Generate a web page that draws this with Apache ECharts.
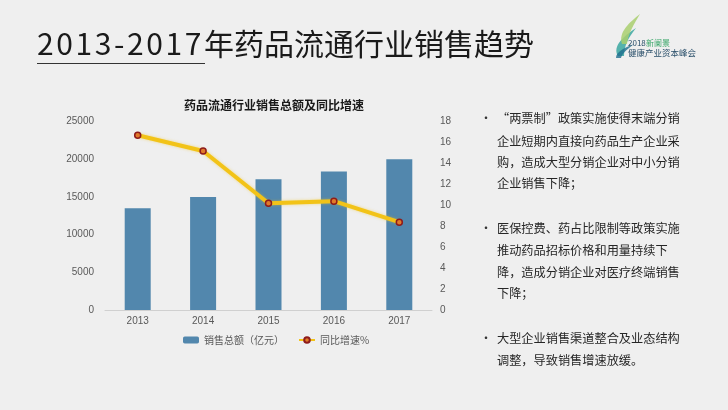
<!DOCTYPE html>
<html>
<head>
<meta charset="utf-8">
<script src="https://cdn.jsdelivr.net/npm/echarts@6/dist/echarts.min.js"></script>
<style>
  html, body { margin:0; padding:0; background:#efefef; width:728px; height:410px; overflow:hidden; font-family:"Noto Sans CJK SC","Noto Sans",sans-serif; }
  #chart { position:absolute; left:0; top:0; width:728px; height:410px; }
  #title { position:absolute; left:37px; top:22px; font-size:30px; line-height:40px; color:#1a1a1a; font-weight:400; white-space:nowrap; }
  #title .d { letter-spacing:2.6px; }
  #uline { position:absolute; left:37px; top:63px; width:168px; height:1px; background:#333; }
  .ln { position:absolute; left:497px; font-size:12.2px; line-height:22px; color:#262626; white-space:nowrap; }
  .bul { position:absolute; left:480px; font-size:12px; line-height:22px; color:#333; }
  #logo { position:absolute; left:610px; top:10px; width:100px; height:50px; }
</style>
</head>
<body>
<div id="chart"></div>
<div id="title"><span class="d">2013-2017</span>年药品流通行业销售趋势</div>
<div id="uline"></div>
<svg id="logo" viewBox="0 0 100 50">
  <path d="M8 46 C 2 36, 14 26, 26 18 C 18 28, 14 36, 14 46 Z" fill="#3aa7a0" opacity="0.85"/>
  <path d="M12 34 C 8 22, 20 12, 30 4 C 24 14, 18 24, 17 34 Z" fill="#a9cf6f" opacity="0.85"/>
  <path d="M6 48 C 6 42, 14 38, 24 34 C 16 40, 12 44, 11 48 Z" fill="#1e6e8e" opacity="0.8"/>
  <text x="18" y="36" font-size="8" fill="#2a4f6a" font-family="Noto Sans CJK SC">2018</text>
  <text x="36" y="36" font-size="8" fill="#3aa76a" font-family="Noto Sans CJK SC">新阑景</text>
  <text x="18" y="46" font-size="8.5" fill="#2a4f6a" font-family="Noto Sans CJK SC">健康产业资本峰会</text>
</svg>
<div class="bul" style="top:107px">•</div>
<div class="ln" style="top:107px">“两票制”政策实施使得末端分销</div>
<div class="ln" style="top:130px">企业短期内直接向药品生产企业采</div>
<div class="ln" style="top:151px">购，造成大型分销企业对中小分销</div>
<div class="ln" style="top:172px">企业销售下降；</div>
<div class="bul" style="top:217px">•</div>
<div class="ln" style="top:217px">医保控费、药占比限制等政策实施</div>
<div class="ln" style="top:239px">推动药品招标价格和用量持续下</div>
<div class="ln" style="top:261px">降，造成分销企业对医疗终端销售</div>
<div class="ln" style="top:282px">下降；</div>
<div class="bul" style="top:327px">•</div>
<div class="ln" style="top:327px">大型企业销售渠道整合及业态结构</div>
<div class="ln" style="top:349px">调整，导致销售增速放缓。</div>
<script>
const years = ['2013', '2014', '2015', '2016', '2017'];
const salesTotal = [13500, 15000, 17350, 18400, 20000];
const growthRate = [16.7, 15.2, 10.2, 10.4, 8.4];
const seriesNames = ['销售总额（亿元）', '同比增速%'];
const chartTitle = '药品流通行业销售总额及同比增速';

const chart = echarts.init(document.getElementById('chart'), null, { renderer: 'canvas' });
chart.setOption({
  animation: false,
  backgroundColor: 'transparent',
  title: {
    text: chartTitle, left: 269, top: 94, textAlign: 'center',
    textStyle: { fontSize: 12, fontWeight: 'bold', color: '#1a1a1a', fontFamily: 'Noto Sans CJK SC' }
  },
  legend: {
    data: seriesNames, left: 178, top: 330, itemWidth: 16, itemHeight: 7, itemGap: 14,
    textStyle: { fontSize: 10, color: '#595959', fontFamily: 'Noto Sans CJK SC' }
  },
  grid: { left: 105, right: 296, top: 121.7, bottom: 100 },
  xAxis: {
    type: 'category', data: years,
    axisLine: { lineStyle: { color: '#d0d0d0' } },
    axisTick: { show: false },
    axisLabel: { color: '#595959', fontSize: 10, margin: 6 }
  },
  yAxis: [
    { type: 'value', min: 0, max: 25000, interval: 5000,
      splitLine: { show: false }, axisLine: { show: false }, axisTick: { show: false },
      axisLabel: { color: '#595959', fontSize: 10, margin: 11, formatter: v => String(v) } },
    { type: 'value', min: 0, max: 18, interval: 2, position: 'right',
      splitLine: { show: false }, axisLine: { show: false }, axisTick: { show: false },
      axisLabel: { color: '#595959', fontSize: 10, margin: 8 } }
  ],
  series: [
    { name: seriesNames[0], type: 'bar', data: salesTotal, barWidth: 26,
      itemStyle: { color: '#5287ad' } },
    { name: seriesNames[1], type: 'line', yAxisIndex: 1, data: growthRate,
      symbol: 'circle', symbolSize: 6,
      lineStyle: { color: '#f2c318', width: 4, shadowColor: 'rgba(242,195,24,0.5)', shadowBlur: 3 },
      itemStyle: { color: '#e07a2a', borderColor: '#8e1b1b', borderWidth: 1.5 } }
  ]
});
</script>
</body>
</html>
